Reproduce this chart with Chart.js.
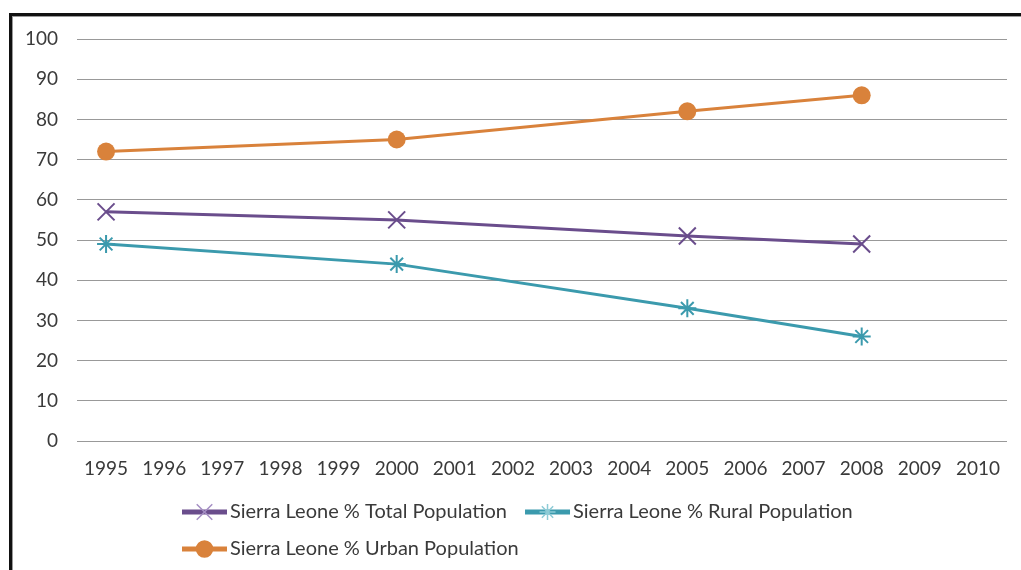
<!DOCTYPE html>
<html>
<head>
<meta charset="utf-8">
<script src="https://cdn.jsdelivr.net/npm/chart.js@4/dist/chart.umd.min.js"></script>
<style>
  html, body { margin: 0; padding: 0; background: #fff; }
  #wrap { width: 1021px; height: 570px; }
</style>
</head>
<body>
<div id="wrap"><canvas id="c" width="1021" height="570"></canvas></div>
<script>
const years = ['1995','1996','1997','1998','1999','2000','2001','2002','2003','2004','2005','2006','2007','2008','2009','2010'];
const yTicks = [0, 10, 20, 30, 40, 50, 60, 70, 80, 90, 100];

// Survey years only; other years are left empty and the line spans across them
const totalPct = [57, null, null, null, null, 55, null, null, null, null, 51, null, null, 49, null, null];
const ruralPct = [49, null, null, null, null, 44, null, null, null, null, 33, null, null, 26, null, null];
const urbanPct = [72, null, null, null, null, 75, null, null, null, null, 82, null, null, 86, null, null];

const seriesNames = [
  'Sierra Leone % Total Population',
  'Sierra Leone % Rural Population',
  'Sierra Leone % Urban Population'
];

const FONT = 'Lato, "Open Sans", sans-serif';
const TEXT = '#3a3a3a';
const COLORS = ['#6a4d8c', '#3b9aad', '#d9823b'];
const MARKER_LEGEND = ['#a58fc4', '#8ccbd6', '#d9823b'];
const STYLES = ['crossRot', 'star', 'circle'];
const RADII = [12, 9, 9];
const LEGEND_RADII = [11, 8, 8];

function ds(i, data) {
  const circle = STYLES[i] === 'circle';
  return {
    label: seriesNames[i],
    data: data,
    spanGaps: true,
    borderColor: COLORS[i],
    backgroundColor: COLORS[i],
    borderWidth: 3,
    pointStyle: STYLES[i],
    pointRadius: RADII[i],
    pointBorderWidth: circle ? 0 : 2,
    pointBorderColor: COLORS[i],
    pointBackgroundColor: COLORS[i],
    tension: 0
  };
}

// Frame lines along the top and left edges
const framePlugin = {
  id: 'frame',
  beforeDraw(chart) {
    const ctx = chart.ctx;
    ctx.save();
    ctx.fillStyle = '#111';
    ctx.fillRect(9, 13, chart.width - 9, 3);
    ctx.fillRect(9, 13, 3, chart.height - 13);
    ctx.fillStyle = '#9a9a9a';
    ctx.fillRect(12, 16, chart.width - 12, 1);
    ctx.fillRect(12, 16, 1, chart.height - 16);
    ctx.restore();
  }
};

// Legend: two rows, left aligned, each key a short line with the series marker
const legendPlugin = {
  id: 'lineLegend',
  afterDraw(chart) {
    const ctx = chart.ctx;
    const rows = [[0, 1], [2]];
    const rowY = [512, 549];
    const startX = 182, lineLen = 45, textGap = 3, itemGap = 18;
    ctx.save();
    ctx.font = '20px ' + FONT;
    ctx.textBaseline = 'middle';
    rows.forEach((row, r) => {
      let x = startX;
      const y = rowY[r];
      row.forEach(i => {
        const d = chart.data.datasets[i];
        ctx.strokeStyle = COLORS[i];
        ctx.lineWidth = 5;
        ctx.beginPath();
        ctx.moveTo(x, y);
        ctx.lineTo(x + lineLen, y);
        ctx.stroke();
        ctx.strokeStyle = MARKER_LEGEND[i];
        ctx.fillStyle = MARKER_LEGEND[i];
        ctx.lineWidth = 1.5;
        Chart.helpers.drawPoint(ctx, {
          pointStyle: d.pointStyle,
          rotation: 0,
          borderWidth: 1.5,
          radius: LEGEND_RADII[i]
        }, x + lineLen / 2, y);
        ctx.fillStyle = TEXT;
        ctx.fillText(d.label, x + lineLen + textGap, y);
        x += lineLen + textGap + ctx.measureText(d.label).width + itemGap;
      });
    });
    ctx.restore();
  }
};

new Chart(document.getElementById('c'), {
  type: 'line',
  data: {
    labels: years,
    datasets: [ds(0, totalPct), ds(1, ruralPct), ds(2, urbanPct)]
  },
  options: {
    responsive: false,
    animation: false,
    layout: { padding: { top: 39, right: 12, left: 0, bottom: 0 } },
    plugins: {
      legend: { display: false },
      tooltip: { enabled: false }
    },
    scales: {
      x: {
        offset: true,
        grid: { display: false, drawTicks: false },
        border: { display: false },
        ticks: { color: TEXT, font: { family: FONT, size: 19 }, padding: 16, maxRotation: 0, autoSkip: false },
        afterFit(scale) { scale.height = 129; }
      },
      y: {
        min: 0,
        max: 100,
        afterBuildTicks(scale) { scale.ticks = yTicks.map(v => ({ value: v })); },
        grid: { color: '#999999', lineWidth: 1, drawTicks: false },
        border: { display: false },
        ticks: { color: TEXT, font: { family: FONT, size: 19 }, padding: 19 },
        afterFit(scale) { scale.width = 77; }
      }
    }
  },
  plugins: [framePlugin, legendPlugin]
});
</script>
</body>
</html>
